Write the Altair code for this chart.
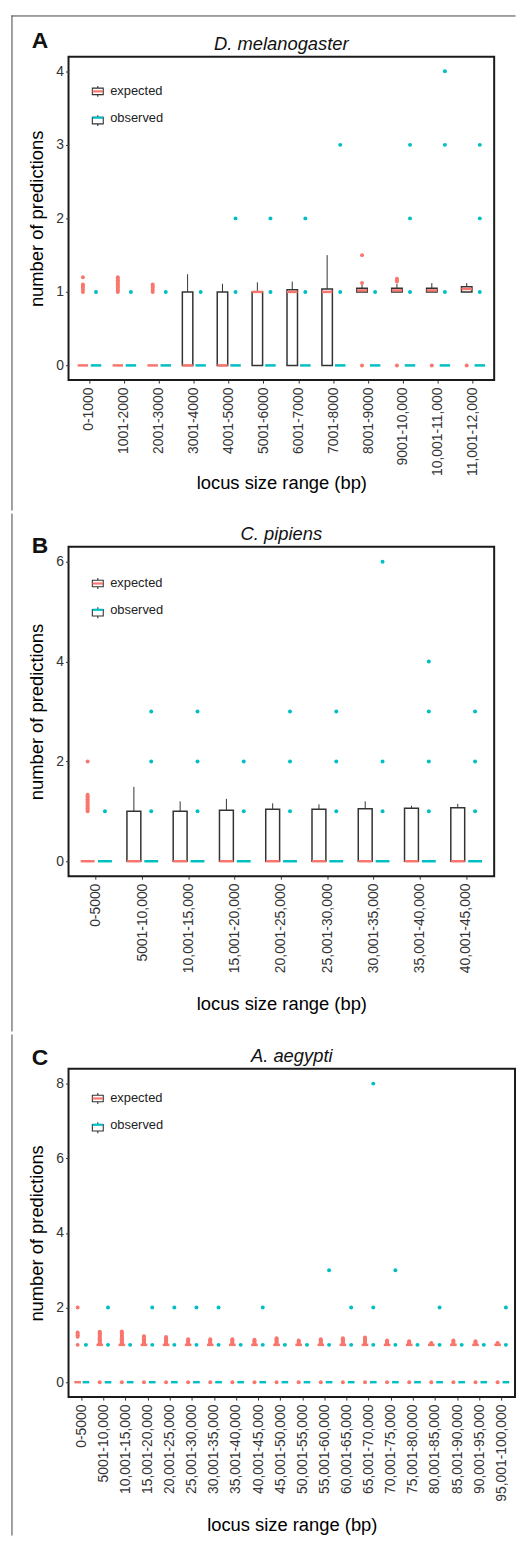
import altair as alt
import pandas as pd

FONT = "Liberation Sans"
RED = "#F8766D"
TEAL = "#00BFC4"
TYPES = ["expected", "observed"]
BOX_KEYS = ["expected box", "observed box"]

# ---------------- Panel A: D. melanogaster ----------------
A_cats = ["0-1000", "1001-2000", "2001-3000", "3001-4000", "4001-5000", "5001-6000",
          "6001-7000", "7001-8000", "8001-9000", "9001-10,000", "10,001-11,000", "11,001-12,000"]
A_exp_q1 = [0, 0, 0, 0, 0, 0, 0, 0, 1.0, 1.0, 1.0, 1.0]
A_exp_med = [0, 0, 0, 0, 0, 1.0, 1.0, 1.0, 1.02, 1.02, 1.02, 1.04]
A_exp_q3 = [0, 0, 0, 1.0, 1.0, 1.0, 1.03, 1.04, 1.05, 1.05, 1.05, 1.07]
A_exp_hi = [0, 0, 0, 1.24, 1.11, 1.13, 1.14, 1.5, 1.1, 1.11, 1.12, 1.12]
A_obs_q1 = [0, 0, 0, 0, 0, 0, 0, 0, 0, 0, 0, 0]
A_obs_med = [0, 0, 0, 0, 0, 0, 0, 0, 0, 0, 0, 0]
A_obs_q3 = [0, 0, 0, 0, 0, 0, 0, 0, 0, 0, 0, 0]
A_obs_hi = [0, 0, 0, 0, 0, 0, 0, 0, 0, 0, 0, 0]
A_exp_out = [[1.0, 1.03, 1.06, 1.08, 1.1, 1.2],
             [1.0, 1.02, 1.04, 1.06, 1.08, 1.1, 1.12, 1.14, 1.16, 1.18, 1.2],
             [1.0, 1.03, 1.06, 1.08, 1.1],
             [], [], [], [], [],
             [0, 1.12, 1.5],
             [0, 1.14, 1.16, 1.18],
             [0],
             [0]]
A_obs_out = [[1], [1], [1], [1], [1, 2], [1, 2], [1, 2], [1, 3], [1], [1, 2, 3], [1, 3, 4], [1, 2, 3]]

# ---------------- Panel B: C. pipiens ----------------
B_cats = ["0-5000", "5001-10,000", "10,001-15,000", "15,001-20,000", "20,001-25,000",
          "25,001-30,000", "30,001-35,000", "35,001-40,000", "40,001-45,000"]
B_exp_q1 = [0, 0, 0, 0, 0, 0, 0, 0, 0]
B_exp_med = [0, 0, 0, 0, 0, 0, 0, 0, 0]
B_exp_q3 = [0, 1.0, 1.0, 1.02, 1.04, 1.04, 1.05, 1.06, 1.07]
B_exp_hi = [0, 1.49, 1.2, 1.25, 1.16, 1.14, 1.2, 1.11, 1.15]
B_obs_q1 = [0, 0, 0, 0, 0, 0, 0, 0, 0]
B_obs_med = [0, 0, 0, 0, 0, 0, 0, 0, 0]
B_obs_q3 = [0, 0, 0, 0, 0, 0, 0, 0, 0]
B_obs_hi = [0, 0, 0, 0, 0, 0, 0, 0, 0]
B_exp_out = [[1.0, 1.03, 1.06, 1.09, 1.12, 1.15, 1.18, 1.21, 1.24, 1.27, 1.3, 1.33, 2],
             [], [], [], [], [], [], [], []]
B_obs_out = [[1], [1, 2, 3], [1, 2, 3], [1, 2], [1, 2, 3], [1, 2, 3], [1, 2, 6], [1, 2, 3, 4], [1, 2, 3]]

# ---------------- Panel C: A. aegypti ----------------
C_cats = ["0-5000", "5001-10,000", "10,001-15,000", "15,001-20,000", "20,001-25,000",
          "25,001-30,000", "30,001-35,000", "35,001-40,000", "40,001-45,000", "45,001-50,000",
          "50,001-55,000", "55,001-60,000", "60,001-65,000", "65,001-70,000", "70,001-75,000",
          "75,001-80,000", "80,001-85,000", "85,001-90,000", "90,001-95,000", "95,001-100,000"]
C_exp_q1 = [0, 1, 1, 1, 1, 1, 1, 1, 1, 1, 1, 1, 1, 1, 1, 1, 1, 1, 1, 1]
C_exp_med = [0, 1, 1, 1, 1, 1, 1, 1, 1, 1, 1, 1, 1, 1, 1, 1, 1, 1, 1, 1]
C_exp_q3 = [0, 1, 1, 1, 1, 1, 1, 1, 1, 1, 1, 1, 1, 1, 1, 1, 1, 1, 1, 1]
C_exp_hi = [0, 1, 1, 1, 1, 1, 1, 1, 1, 1, 1, 1, 1, 1, 1, 1, 1, 1, 1, 1]
C_obs_q1 = [0, 0, 0, 0, 0, 0, 0, 0, 0, 0, 0, 0, 0, 0, 0, 0, 0, 0, 0, 0]
C_obs_med = [0, 0, 0, 0, 0, 0, 0, 0, 0, 0, 0, 0, 0, 0, 0, 0, 0, 0, 0, 0]
C_obs_q3 = [0, 0, 0, 0, 0, 0, 0, 0, 0, 0, 0, 0, 0, 0, 0, 0, 0, 0, 0, 0]
C_obs_hi = [0, 0, 0, 0, 0, 0, 0, 0, 0, 0, 0, 0, 0, 0, 0, 0, 0, 0, 0, 0]
C_exp_out = [[1.0, 1.22, 1.26, 1.3, 1.33, 2],
             [0, 1.03, 1.06, 1.09, 1.12, 1.15, 1.18, 1.21, 1.24, 1.27, 1.3, 1.33, 1.35],
             [0, 1.03, 1.06, 1.09, 1.12, 1.15, 1.18, 1.21, 1.24, 1.27, 1.3, 1.33, 1.36],
             [0, 1.03, 1.06, 1.09, 1.12, 1.15, 1.18, 1.21, 1.23],
             [0, 1.03, 1.06, 1.09, 1.12, 1.15, 1.18, 1.21],
             [0, 1.03, 1.06, 1.09, 1.12, 1.15],
             [0, 1.03, 1.06, 1.09, 1.12, 1.15],
             [0, 1.03, 1.06, 1.09, 1.12, 1.15],
             [0, 1.03, 1.06, 1.09, 1.12, 1.14],
             [0, 1.03, 1.06, 1.09, 1.12, 1.15, 1.18],
             [0, 1.03, 1.06, 1.09, 1.12],
             [0, 1.03, 1.06, 1.09, 1.12, 1.15],
             [0, 1.03, 1.06, 1.09, 1.12, 1.15, 1.18],
             [0, 1.03, 1.06, 1.09, 1.12, 1.15, 1.18, 1.2],
             [0, 1.03, 1.06, 1.09, 1.12],
             [0, 1.03, 1.06, 1.08, 1.1],
             [0, 1.03, 1.05],
             [0, 1.03, 1.06, 1.09, 1.12],
             [0, 1.03, 1.06, 1.08, 1.1],
             [0, 1.03, 1.05]]
C_obs_out = [[1], [1, 2], [1], [1, 2], [1, 2], [1, 2], [1, 2], [1], [1, 2], [1],
             [1], [1, 3], [1, 2], [1, 2, 8], [1, 3], [1], [1, 2], [1], [1], [1, 2]]


def stats_frame(cats, exp, obs):
    rows = []
    for i, c in enumerate(cats):
        for t, k, s in ((TYPES[0], BOX_KEYS[0], exp), (TYPES[1], BOX_KEYS[1], obs)):
            rows.append({"cat": c, "type": t, "boxkey": k,
                         "q1": s[0][i], "med": s[1][i], "q3": s[2][i], "hi": s[3][i]})
    return pd.DataFrame(rows)


def outlier_frame(cats, exp_out, obs_out):
    rows = []
    for i, c in enumerate(cats):
        for v in exp_out[i]:
            rows.append({"cat": c, "type": TYPES[0], "value": v})
        for v in obs_out[i]:
            rows.append({"cat": c, "type": TYPES[1], "value": v})
    return pd.DataFrame(rows)


BOX_PATH = "M-1,-0.6H1V0.6H-1Z M0,-0.6V-1 M0,0.6V1"
LINE_PATH = "M-0.95,-0.2H0.95V0.2H-0.95Z"
YT = "number of predictions"
XT = "locus size range (bp)"
BORDER_X = -57


def panel(letter, species, cats, stats, outs, W, H, ydom, yvals, legY, letterY, xtp,
          ruleTop, ruleBot, topLineRight=None):
    n = len(cats)
    step = W / (n - 0.25 + 2 * 0.225)
    tick_size = step * 0.3
    xaxis = alt.Axis(title=XT, labelAngle=270, labelAlign="right", labelBaseline="middle",
                     labelFontSize=14, labelPadding=4, tickSize=3, titlePadding=xtp,
                     labelOverlap=False, labelLimit=0, titleFontSize=18.5)
    yaxis = alt.Axis(title=YT, values=yvals, format="d", labelFontSize=14, labelPadding=2,
                     tickSize=3, titlePadding=9, titleFontSize=18.5)
    X = alt.X("cat:N", sort=cats,
              scale=alt.Scale(domain=cats, paddingInner=0.25, paddingOuter=0.225), axis=xaxis)
    XO = alt.XOffset("type:N", scale=alt.Scale(domain=TYPES, paddingInner=0.2, paddingOuter=0.1))
    ysc = alt.Scale(domain=ydom, nice=False, zero=False)

    def Y(f):
        return alt.Y(f"{f}:Q", scale=ysc, axis=yaxis, title=YT)

    common_leg = dict(title=None, orient="none", legendX=23, legendY=legY, direction="vertical",
                      symbolSize=121, labelFontSize=13, labelFont=FONT, labelColor="#222222",
                      labelOffset=6, rowPadding=12.5, padding=0)
    fill_leg = alt.Legend(symbolType=LINE_PATH, symbolStrokeWidth=0, **common_leg)
    box_leg = alt.Legend(symbolType=BOX_PATH, symbolStrokeWidth=1.1, labelExpr="' '", **common_leg)
    fillenc = alt.Fill("type:N", scale=alt.Scale(domain=TYPES, range=[RED, TEAL]), legend=fill_leg)

    base = alt.Chart(stats)
    whisk = base.transform_filter("datum.hi > datum.q3").mark_rule(
        color="#333333", strokeWidth=1).encode(x=X, xOffset=XO, y=Y("q3"), y2=alt.Y2("hi:Q"))
    boxes = base.transform_filter("datum.q3 > datum.q1").mark_bar(
        filled=False, strokeWidth=1.5, opacity=1).encode(
        x=X, xOffset=XO, y=Y("q1"), y2=alt.Y2("q3:Q"),
        color=alt.Color("boxkey:N", scale=alt.Scale(domain=BOX_KEYS, range=["#333333", "#333333"]),
                        legend=box_leg))
    meds = base.mark_tick(thickness=2.5, size=tick_size, opacity=1, orient="horizontal").encode(
        x=X, xOffset=XO, y=Y("med"), fill=fillenc)
    pts = alt.Chart(outs).mark_circle(size=16, opacity=1).encode(
        x=X, xOffset=XO, y=Y("value"), fill=fillenc)

    one = pd.DataFrame({"t": [letter]})
    letter_t = alt.Chart(one).mark_text(align="left", baseline="alphabetic", font=FONT,
                                        fontSize=23, fontWeight="bold", color="#111111").encode(
        text="t:N", x=alt.value(-37), y=alt.value(letterY))
    sp = pd.DataFrame({"t": [species]})
    species_t = alt.Chart(sp).mark_text(align="center", baseline="alphabetic", font=FONT,
                                        fontSize=18.5, fontStyle="italic", color="#111111").encode(
        text="t:N", x=alt.value(W / 2), y=alt.value(-7))
    border = alt.Chart(one).mark_rule(color="#444444", strokeWidth=1, strokeCap="square").encode(
        x=alt.value(BORDER_X), y=alt.value(ruleTop), y2=alt.value(ruleBot))
    layers = [whisk, boxes, meds, pts, letter_t, species_t, border]
    if topLineRight is not None:
        topline = alt.Chart(one).mark_rule(color="#444444", strokeWidth=1, strokeCap="square").encode(
            x=alt.value(BORDER_X), x2=alt.value(topLineRight), y=alt.value(ruleTop))
        layers.append(topline)
    return alt.layer(*layers).properties(width=W, height=H)


pA = panel("A", "D. melanogaster", A_cats,
           stats_frame(A_cats, (A_exp_q1, A_exp_med, A_exp_q3, A_exp_hi),
                       (A_obs_q1, A_obs_med, A_obs_q3, A_obs_hi)),
           outlier_frame(A_cats, A_exp_out, A_obs_out),
           429, 326, [-0.2, 4.2], [0, 1, 2, 3, 4], 28.5, -9, -2, -41, 457, topLineRight=450)
pB = panel("B", "C. pipiens", B_cats,
           stats_frame(B_cats, (B_exp_q1, B_exp_med, B_exp_q3, B_exp_hi),
                       (B_obs_q1, B_obs_med, B_obs_q3, B_obs_hi)),
           outlier_frame(B_cats, B_exp_out, B_obs_out),
           429, 332, [-0.3, 6.3], [0, 2, 4, 6], 30.5, 6, 22, -33, 488)
pC = panel("C", "A. aegypti", C_cats,
           stats_frame(C_cats, (C_exp_q1, C_exp_med, C_exp_q3, C_exp_hi),
                       (C_obs_q1, C_obs_med, C_obs_q3, C_obs_hi)),
           outlier_frame(C_cats, C_exp_out, C_obs_out),
           450, 331, [-0.4, 8.4], [0, 2, 4, 6, 8], 23.5, -4, 14, -34, 470)

chart = alt.vconcat(pA, pB, pC, spacing=0).resolve_scale(
    x="independent", y="independent", color="independent", fill="independent",
    xOffset="independent").resolve_legend(color="independent", fill="independent").properties(
    padding={"left": 2, "top": 0, "right": 0, "bottom": 0}
).configure_view(stroke="#1a1a1a", strokeWidth=2).configure_axis(
    grid=False, domain=False, labelFont=FONT, titleFont=FONT, labelColor="#333333",
    tickColor="#333333", titleColor="#000000", titleFontWeight="normal"
)

chart.save("out.html", embed_options={"renderer": "svg", "actions": False})
